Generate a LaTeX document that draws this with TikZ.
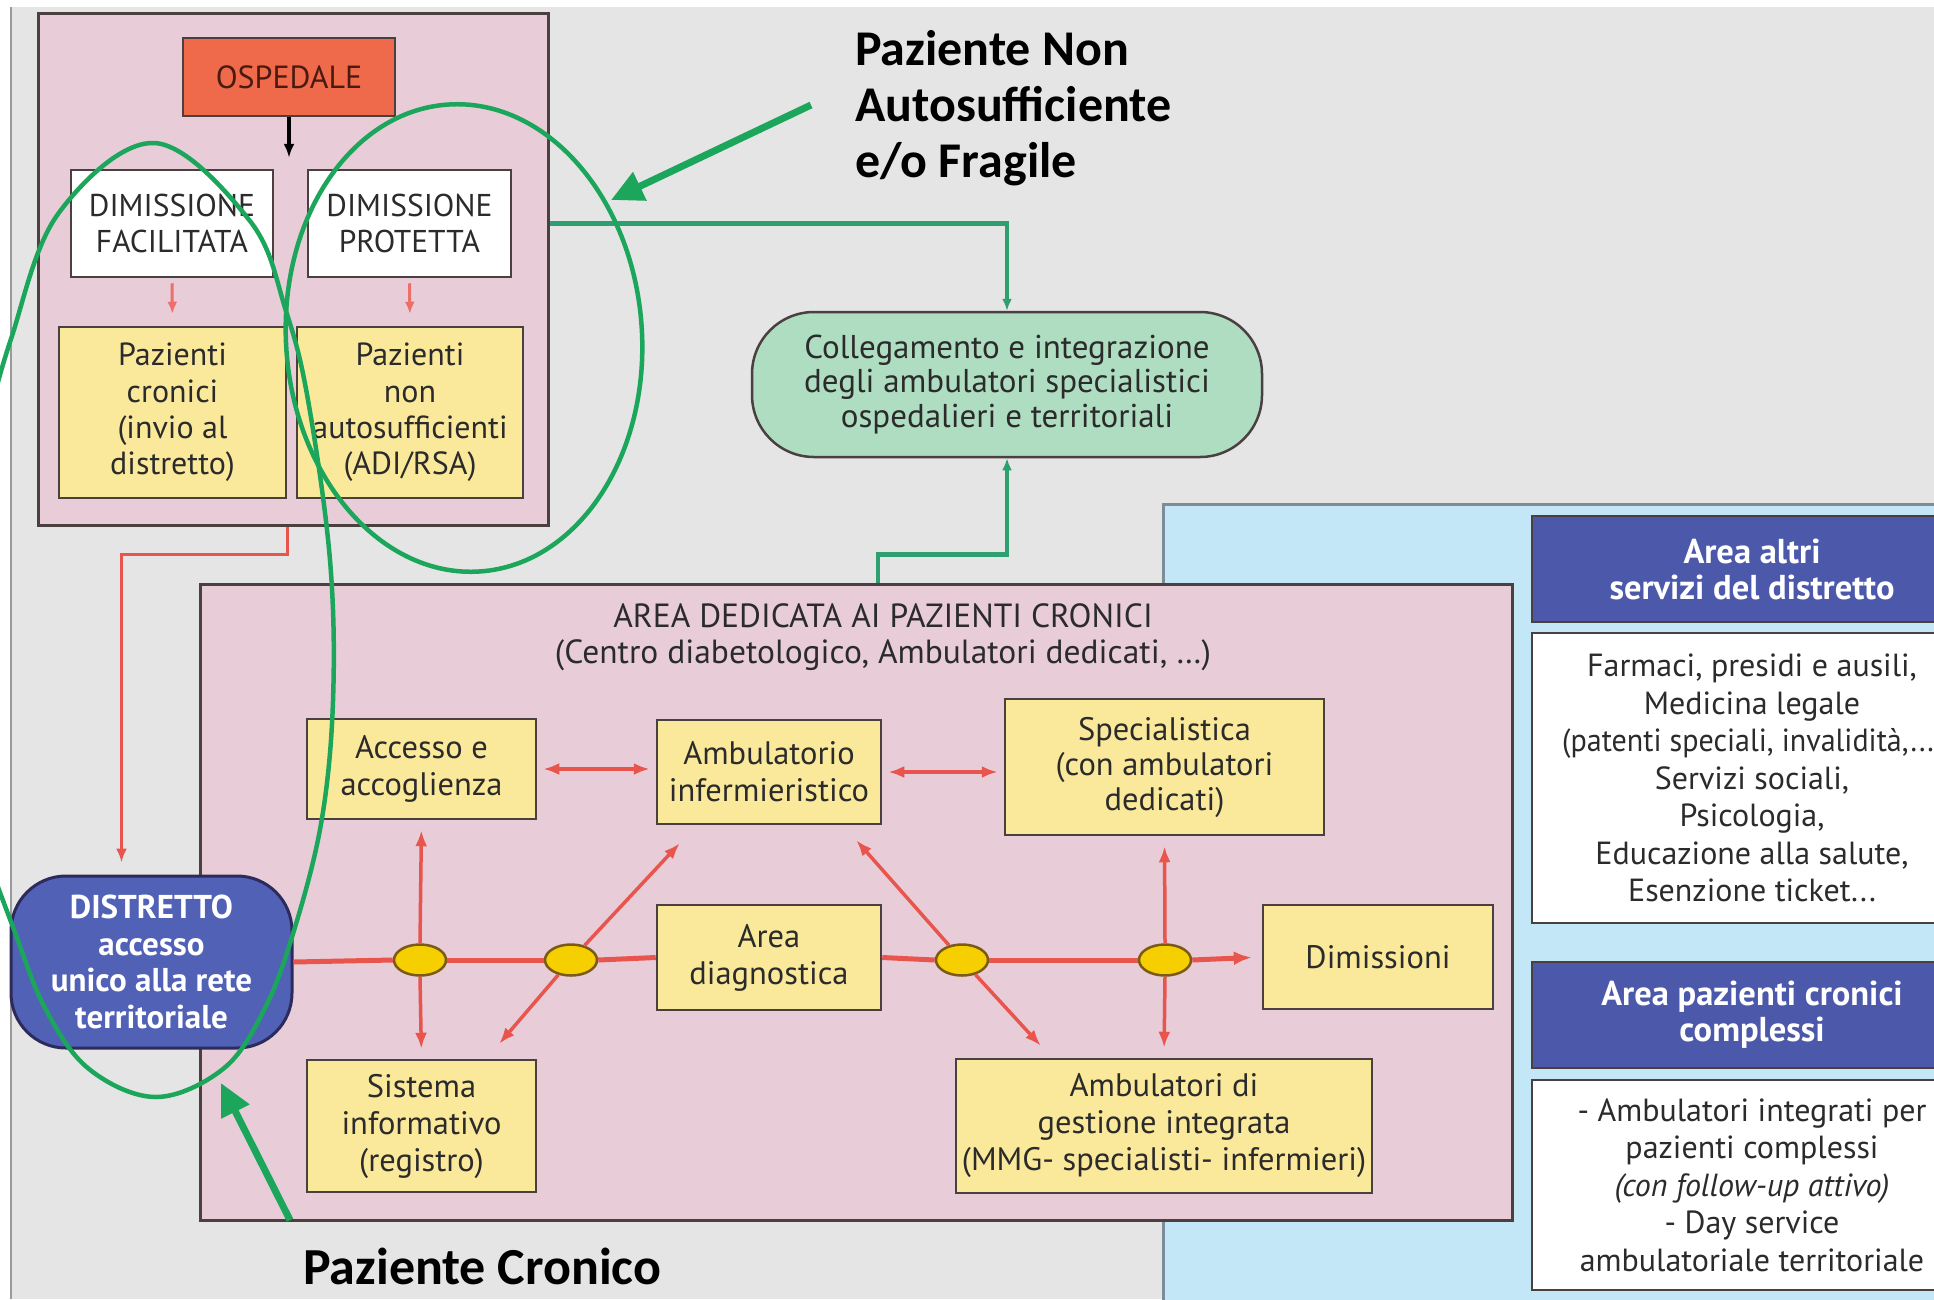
\documentclass[tikz,border=0pt]{standalone}
\usepackage{fontspec}
\setmainfont{PT Sans}
\newfontfamily\labfont{Carlito}
\usetikzlibrary{arrows.meta,calc,shapes.geometric}
\newcommand{\myfs}[2]{\fontsize{#1}{#2}\selectfont}
\definecolor{cgray}{HTML}{E5E5E5}
\definecolor{cgrayline}{HTML}{9A9A9A}
\definecolor{cpink}{HTML}{E8CDD9}
\definecolor{cbord}{HTML}{4A4040}
\definecolor{cyel}{HTML}{FBE99B}
\definecolor{cosp}{HTML}{EE6A4B}
\definecolor{cospt}{HTML}{4A1A10}
\definecolor{ccoll}{HTML}{AFDDC2}
\definecolor{clblue}{HTML}{C4E7F7}
\definecolor{cblueline}{HTML}{7D8C99}
\definecolor{cdblue}{HTML}{4C59AB}
\definecolor{cdist}{HTML}{5161B6}
\definecolor{cnavy}{HTML}{2C2B5C}
\definecolor{cred}{HTML}{E8554C}
\definecolor{credsm}{HTML}{EC6F6A}
\definecolor{cknotfill}{HTML}{F6CF00}
\definecolor{cknot}{HTML}{7A5A14}
\definecolor{cannot}{HTML}{1BA65B}
\definecolor{clink}{HTML}{2E9F70}
\definecolor{ctxt}{HTML}{2B2B2B}
\begin{document}
\begin{tikzpicture}[x=1pt,y=-1pt,
  ybox/.style={draw=cbord,line width=2.5pt,fill=cyel,inner sep=0pt,align=center,font=\myfs{32.5}{37},text=ctxt},
  wbox/.style={draw=cbord,line width=2.5pt,fill=white,inner sep=0pt,align=center,font=\myfs{32}{37.5},text=ctxt},
  hdr/.style={draw=cbord,line width=2pt,fill=cdblue,inner sep=0pt,align=center,font=\myfs{34.5}{36}\bfseries,text=white},
  pinkarea/.style={draw=cbord,line width=3pt,fill=cpink,inner sep=0pt},
  knot/.style={draw=cknot,line width=2.5pt,fill=cknotfill,ellipse,minimum width=52pt,minimum height=31pt,inner sep=0pt},
  redmain/.style={draw=cred,line width=5pt},
  redarr/.style={draw=cred,line width=3.5pt,-{Latex[length=16pt,width=12pt]},shorten >=10pt},
  redbi/.style={draw=cred,line width=3.5pt,{Latex[length=16pt,width=12pt]}-{Latex[length=16pt,width=12pt]},shorten >=6pt,shorten <=6pt},
  redsmall/.style={draw=credsm,line width=3pt,-{Latex[length=12pt,width=10pt]},shorten <=5pt,shorten >=12pt},
  glink/.style={draw=clink,line width=4.5pt,-{Latex[length=12pt,width=10pt]}},
  annot/.style={draw=cannot,line width=4.5pt},
  annarrow/.style={draw=cannot,line width=7pt,-{Triangle[length=32pt,width=30pt]}},
  lab/.style={font=\labfont\bfseries\myfs{50}{56},text=black,inner sep=0pt}
]
\useasboundingbox (0,0) rectangle (1934,1299);
\clip (0,0) rectangle (1934,1299);
% background
\fill[white] (0,0) rectangle (1934,1299);
\fill[cgray] (11,7) rectangle (1934,1299);
\draw[cgrayline,line width=2pt] (11,7) -- (11,1299);
% blue region
\filldraw[fill=clblue,draw=cblueline,line width=3pt] (1163,504) rectangle (1960,1330);

% hospital block
\node[pinkarea,minimum width=510pt,minimum height=512pt] (hosp) at (293,269) {};
\node[draw=cbord,line width=2.5pt,fill=cosp,minimum width=212pt,minimum height=78pt,inner sep=0pt,font=\myfs{32}{34},text=cospt] (osp) at (289,77) {OSPEDALE};
\node[draw=cbord,line width=2.5pt,fill=white,minimum width=202pt,minimum height=107pt,inner sep=0pt,align=center,font=\myfs{31.5}{36},text=ctxt] (dimfac) at (172,223.5) {DIMISSIONE\\FACILITATA};
\node[draw=cbord,line width=2.5pt,fill=white,minimum width=203pt,minimum height=107pt,inner sep=0pt,align=center,font=\myfs{31.5}{36},text=ctxt] (dimprot) at (409.5,223.5) {DIMISSIONE\\PROTETTA};
\node[ybox,minimum width=227pt,minimum height=171pt,font=\myfs{32}{36.4}] (pc) at (172.5,412.5) {Pazienti\\cronici\\(invio al\\distretto)};
\node[ybox,minimum width=226pt,minimum height=171pt,font=\myfs{32}{36.4}] (pn) at (410,412.5) {Pazienti\\non\\autosufficienti\\(ADI/RSA)};
\draw[line width=3.5pt,-{Latex[length=14pt,width=11pt]},shorten >=11pt] (osp.south) -- (osp.south |- dimfac.north);
\draw[redsmall] (dimfac.south) -- (pc.north);
\draw[redsmall] (dimprot.south) -- (pn.north);

% collegamento
\node[draw=cbord,line width=2.5pt,fill=ccoll,rounded corners=62pt,minimum width=510pt,minimum height=145pt,inner sep=0pt,align=center,font=\myfs{33}{34.5},text=ctxt] (coll) at (1007,384.5) {Collegamento e integrazione\\degli ambulatori specialistici\\ospedalieri e territoriali};
\draw[glink] (hosp.east |- dimprot.east) -| (coll.north);

% area dedicated
\node[pinkarea,minimum width=1312pt,minimum height=636pt] (area) at (856,902) {};
\coordinate (gA) at ($(area.north)+(22,0)$);
\draw[glink] (gA) -- ++(0,-28) -| (coll.south);
\node[font=\myfs{33.5}{36},text=ctxt,align=center] (title) at (883,637) {AREA DEDICATA AI PAZIENTI CRONICI\\(Centro diabetologico, Ambulatori dedicati, …)};

\node[ybox,minimum width=229pt,minimum height=100pt] (acc) at (421.5,769) {Accesso e\\accoglienza};
\node[ybox,minimum width=224pt,minimum height=104pt] (amb) at (769,772) {Ambulatorio\\infermieristico};
\node[ybox,minimum width=319pt,minimum height=136pt,font=\myfs{32.5}{35}] (spec) at (1164.5,767) {Specialistica\\(con ambulatori\\dedicati)};
\node[ybox,minimum width=224pt,minimum height=105pt] (diag) at (769,957.5) {Area\\diagnostica};
\node[ybox,minimum width=230pt,minimum height=104pt] (dim) at (1378,957) {Dimissioni};
\node[ybox,minimum width=229pt,minimum height=132pt] (sis) at (421.5,1126) {Sistema\\informativo\\(registro)};
\node[ybox,minimum width=416pt,minimum height=134pt] (ges) at (1164,1126) {Ambulatori di\\gestione integrata\\(MMG- specialisti- infermieri)};

% distretto
\node[draw=cnavy,line width=3pt,fill=cdist,rounded corners=55pt,minimum width=281pt,minimum height=172pt,inner sep=0pt,align=center,font=\myfs{33}{36.5}\bfseries,text=white] (dist) at (151.5,962) {DISTRETTO\\accesso\\unico alla rete\\territoriale};
\draw[draw=cred,line width=3pt,-{Latex[length=14pt,width=11pt]},shorten >=12pt] (hosp.south -| pc.east) -- ++(0,28) -| ($(dist.north)+(-30,0)$);

% knots
\node[knot] (e1) at (420,960) {};
\node[knot] (e2) at (571,960) {};
\node[knot] (e3) at (962,960) {};
\node[knot] (e4) at (1165,960) {};
\draw[redmain] (dist.east) -- (e1.west);
\draw[redmain] (e1.east) -- (e2.west);
\draw[redmain] (e2.east) -- (diag.west);
\draw[redmain] (diag.east) -- (e3.west);
\draw[redmain] (e3.east) -- (e4.west);
\draw[redmain,-{Latex[length=18pt,width=14pt]},shorten >=10pt] (e4.east) -- (dim.west);
\draw[redarr] (e1.north) -- (acc.south);
\draw[redarr] (e1.south) -- (sis.north);
\draw[redarr] (e4.north) -- (spec.south);
\draw[redarr] (e4.south) -- (ges.north);
\coordinate (t1) at ($(amb.south west)+(24,18)$);
\coordinate (t2) at ($(sis.north east)+(-38,-15)$);
\coordinate (t3) at ($(amb.south east)+(-26,15)$);
\coordinate (t4) at ($(ges.north west)+(86,-12)$);
\draw[redarr,shorten >=0pt] (e2) -- (t1);
\draw[redarr,shorten >=0pt] (e2) -- (t2);
\draw[redarr,shorten >=0pt] (e3) -- (t3);
\draw[redarr,shorten >=0pt] (e3) -- (t4);
\draw[redbi] (acc.east) -- (acc.east -| amb.west);
\draw[redbi] (amb.east) -- (amb.east -| spec.west);

% right panels
\node[hdr,minimum width=440pt,minimum height=106pt] (hdr1) at (1752,569) {Area altri\\servizi del distretto};
\node[wbox,minimum width=440pt,minimum height=290pt] (svc) at (1752,778) {Farmaci, presidi e ausili,\\Medicina legale\\\hspace*{-8pt}\scalebox{0.94}[1]{(patenti speciali, invalidità,...}\\Servizi sociali,\\Psicologia,\\Educazione alla salute,\\Esenzione ticket...};
\node[hdr,minimum width=440pt,minimum height=106pt] (hdr2) at (1752,1014.6) {Area pazienti cronici\\complessi};
\node[wbox,minimum width=440pt,minimum height=210pt] (cpx) at (1752,1185) {- Ambulatori integrati per\\pazienti complessi\\\textit{(con follow-up attivo)}\\- Day service\\ambulatoriale territoriale};

% annotations
\draw[annot,rotate around={4:(464,338)}] (464,338) ellipse [x radius=178, y radius=234];
\draw[annot] plot[smooth,tension=0.6] coordinates {(-12,420) (11,339) (58,214) (154,143) (250,221) (286,311) (308,400) (330,560) (333,701) (321,824) (292,937) (263,1012) (223,1069) (156,1097) (89,1069) (45,1008) (13,927) (-12,860)};
\node[lab,align=left,anchor=north west] (lab1) at (855,30) {Paziente Non\\Autosufficiente\\e/o Fragile};
\node[lab,anchor=base west,text depth=0pt,font=\labfont\bfseries\myfs{52}{56}] (lab2) at (303,1284) {Paziente Cronico};
\coordinate (a1s) at (811,105);
\coordinate (a1e) at (611,200);
\coordinate (a2s) at (290,1220);
\coordinate (a2e) at (221,1083);
\draw[annarrow] (a1s) -- (a1e);
\draw[annarrow] (a2s) -- (a2e);
\end{tikzpicture}
\end{document}
